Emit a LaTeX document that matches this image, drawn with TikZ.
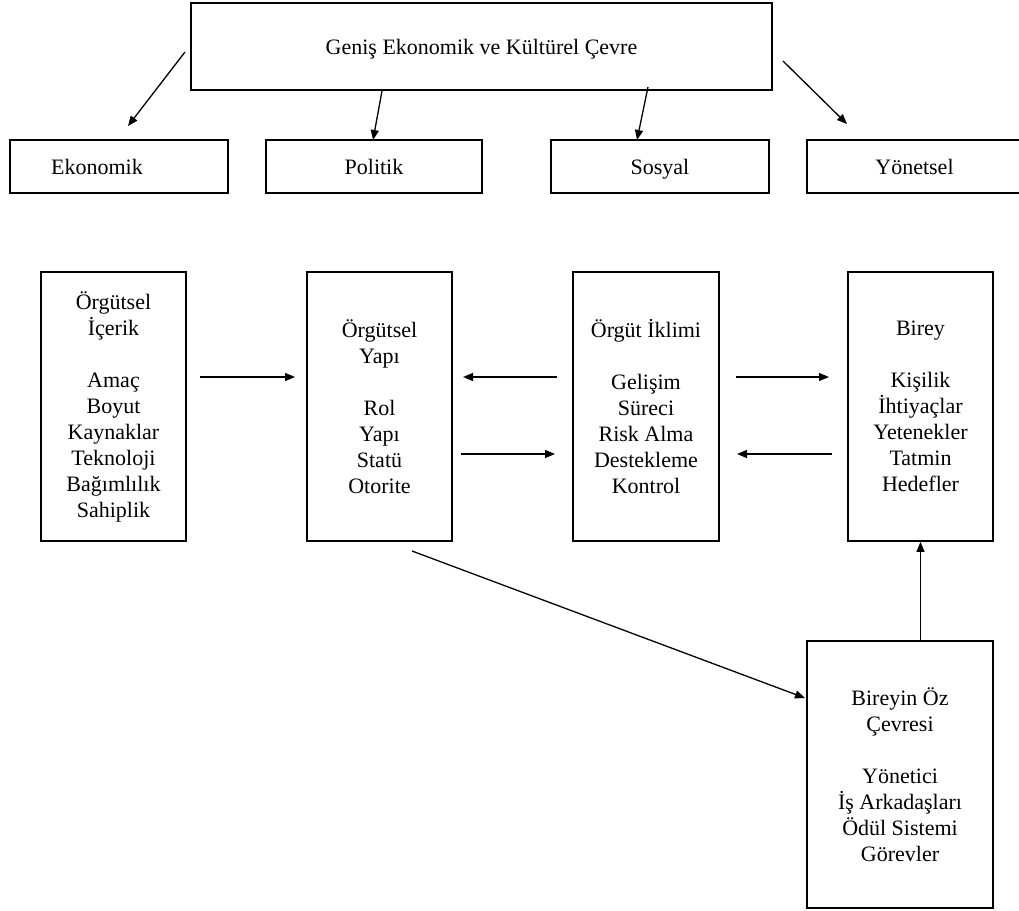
\documentclass[tikz,border=0pt]{standalone}
\usepackage{fontspec}
\setmainfont{Liberation Serif}
\usetikzlibrary{arrows.meta}
\begin{document}
\begin{tikzpicture}[x=1pt,y=-1pt,
  box/.style={draw, line width=1.7pt, inner sep=0pt, align=center,
              font=\fontsize{22}{26}\selectfont},
  oneline/.style={text height=19pt, text depth=3pt},
  lbl/.style={inner sep=0pt, font=\fontsize{22}{26}\selectfont},
  link/.style={line width=1.3pt, -{Triangle[length=10pt,width=8pt]}},
]
\useasboundingbox (0,0) rectangle (1019,910);

% environment on top
\node[box, oneline, minimum width=581pt, minimum height=87pt] (cevre) at (481.5,46.5)
  {Geniş Ekonomik ve Kültürel Çevre};

\node[box, minimum width=218pt, minimum height=53pt] (eko) at (119,166.5) {};
\node[lbl, oneline] (ekotext) at (97,166.5) {Ekonomik};
\node[box, oneline, minimum width=216pt, minimum height=53pt] (pol) at (374,166.5) {Politik};
\node[box, oneline, minimum width=218pt, minimum height=53pt] (sos) at (660,166.5) {Sosyal};
\node[box, oneline, minimum width=215pt, minimum height=53pt] (yon) at (914.5,166.5) {Yönetsel};

% organisation chain
\node[box, minimum width=145pt, minimum height=269pt] (icerik) at (113.5,406.5)
  {Örgütsel\\İçerik\\[26pt]Amaç\\Boyut\\Kaynaklar\\Teknoloji\\Bağımlılık\\Sahiplik};
\node[box, minimum width=145pt, minimum height=269pt] (yapi) at (379.5,406.5)
  {Örgütsel\\Yapı\\[26pt]Rol\\Yapı\\Statü\\Otorite};
\node[box, minimum width=146pt, minimum height=269pt] (iklim) at (646,406.5)
  {Örgüt İklimi\\[26pt]Gelişim\\Süreci\\Risk Alma\\Destekleme\\Kontrol};
\node[box, minimum width=145pt, minimum height=269pt] (birey) at (920.5,406.5)
  {Birey\\[26pt]Kişilik\\İhtiyaçlar\\Yetenekler\\Tatmin\\Hedefler};
\node[box, minimum width=186pt, minimum height=267pt] (oz) at (900,774.5)
  {Bireyin Öz\\Çevresi\\[26pt]Yönetici\\İş Arkadaşları\\Ödül Sistemi\\Görevler};

% free ends of the connectors
\coordinate (t1s) at (185,52);   \coordinate (t1e) at (128,126);
\coordinate (t2s) at (382,91);   \coordinate (t2e) at (373,140);
\coordinate (t3s) at (648,87);   \coordinate (t3e) at (637,140);
\coordinate (t4s) at (783,61);   \coordinate (t4e) at (847,124);
\coordinate (h1s) at (200,377);  \coordinate (h1e) at (295,377);
\coordinate (h2s) at (557,377);  \coordinate (h2e) at (463,377);
\coordinate (h3s) at (461,454);  \coordinate (h3e) at (555,454);
\coordinate (h4s) at (736,377);  \coordinate (h4e) at (829,377);
\coordinate (h5s) at (832,454);  \coordinate (h5e) at (737,454);
\coordinate (ds) at (412,551);   \coordinate (de) at (805,698);

\draw[link] (t1s) -- (t1e);
\draw[link] (t2s) -- (t2e);
\draw[link] (t3s) -- (t3e);
\draw[link] (t4s) -- (t4e);
\draw[link] (h1s) -- (h1e);
\draw[link] (h2s) -- (h2e);
\draw[link] (h3s) -- (h3e);
\draw[link] (h4s) -- (h4e);
\draw[link] (h5s) -- (h5e);
\draw[link] (ds) -- (de);
\draw[link] (oz.north -| birey.south) -- (birey.south);
\end{tikzpicture}
\end{document}
